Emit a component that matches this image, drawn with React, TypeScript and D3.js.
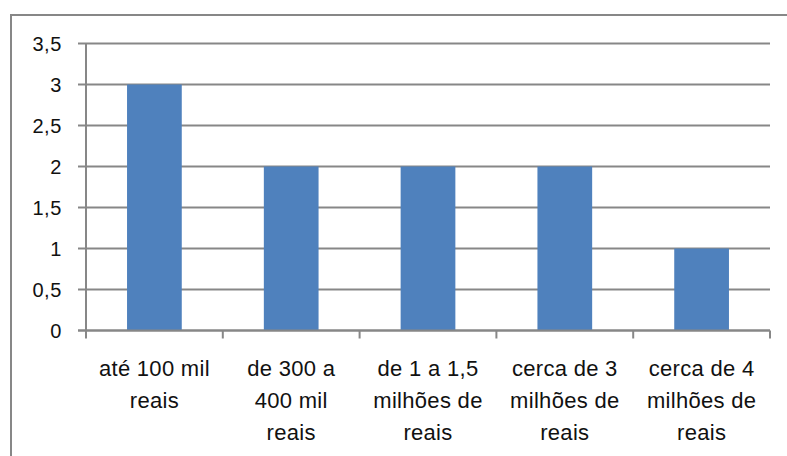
import React from "react";
import * as d3 from "d3";

const categories: string[][] = [
  ["até 100 mil", "reais"],
  ["de 300 a", "400 mil", "reais"],
  ["de 1 a 1,5", "milhões de", "reais"],
  ["cerca de 3", "milhões de", "reais"],
  ["cerca de 4", "milhões de", "reais"],
];
const values: number[] = [3, 2, 2, 2, 1];
const yTicks: number[] = [0, 0.5, 1, 1.5, 2, 2.5, 3, 3.5];
const yTickLabels: string[] = ["0", "0,5", "1", "1,5", "2", "2,5", "3", "3,5"];

const W = 787;
const H = 456;
const left = 86;
const right = 770;
const top = 43.5;
const bottom = 330.5;
const gridColor = "#878787";
const barColor = "#4F81BD";
const font = "'Liberation Sans', Arial, sans-serif";

export default function App() {
  const x = d3
    .scaleBand<number>()
    .domain(d3.range(categories.length))
    .range([left, right])
    .paddingInner(0.6)
    .paddingOuter(0.3);
  const xCat = d3
    .scaleBand<number>()
    .domain(d3.range(categories.length))
    .range([left, right]);
  const y = d3.scaleLinear().domain([0, 3.5]).range([bottom, top]);

  return (
    <svg
      width={W}
      height={H}
      style={{ position: "absolute", left: 0, top: 0, background: "#fff" }}
    >
      <rect x={11} y={15} width={W} height={H} fill="#fff" stroke={gridColor} strokeWidth={2} />
      {yTicks.map((t, i) => (
        <g key={i}>
          <line x1={left - 8} x2={right} y1={y(t)} y2={y(t)} stroke={gridColor} strokeWidth={2} />
          <text
            x={62}
            y={y(t)}
            dy="0.36em"
            textAnchor="end"
            fontFamily={font}
            fontSize={20}
            letterSpacing={0.6}
            fill="#111"
          >
            {yTickLabels[i]}
          </text>
        </g>
      ))}
      {values.map((v, i) => (
        <rect
          key={i}
          x={x(i)!}
          y={y(v)}
          width={x.bandwidth()}
          height={y(0) - y(v)}
          fill={barColor}
        />
      ))}
      <line x1={left} x2={left} y1={top} y2={bottom} stroke={gridColor} strokeWidth={2} />
      <line x1={left - 8} x2={right} y1={bottom} y2={bottom} stroke={gridColor} strokeWidth={2} />
      {d3.range(categories.length + 1).map((i) => {
        const xx = i < categories.length ? xCat(i)! : right;
        return (
          <line key={i} x1={xx} x2={xx} y1={bottom} y2={bottom + 8} stroke={gridColor} strokeWidth={2} />
        );
      })}
      {categories.map((lines, i) => (
        <text
          key={i}
          textAnchor="middle"
          fontFamily={font}
          fontSize={22}
          fill="#111"
          letterSpacing={0.3}
        >
          {lines.map((ln, j) => (
            <tspan key={j} x={xCat(i)! + xCat.bandwidth() / 2} y={376 + j * 32}>
              {ln}
            </tspan>
          ))}
        </text>
      ))}
    </svg>
  );
}
